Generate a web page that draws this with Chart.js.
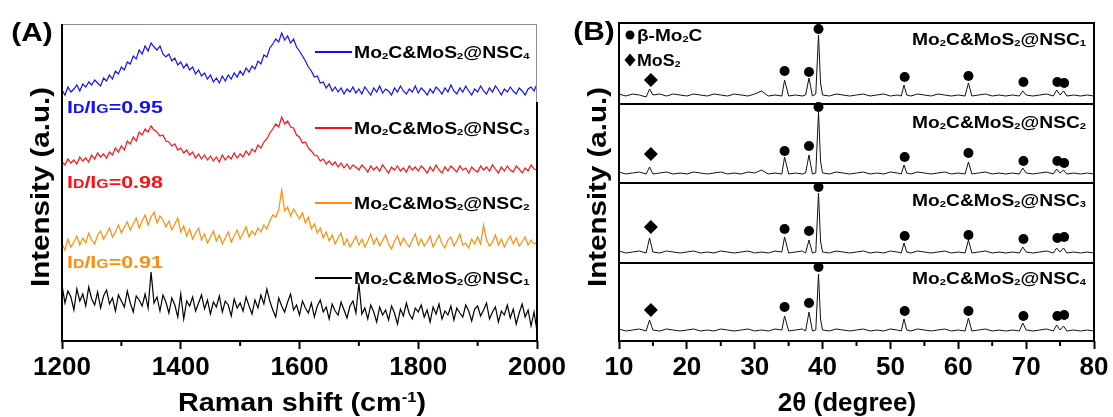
<!DOCTYPE html>
<html>
<head>
<meta charset="utf-8">
<script src="https://cdn.jsdelivr.net/npm/chart.js@4.4.1/dist/chart.umd.min.js"></script>
<style>
  html, body { margin: 0; padding: 0; background: #fff; }
  #wrap { position: relative; width: 1113px; height: 417px; overflow: hidden; }
  .box { position: absolute; top: 0; height: 417px; }
  #boxA { left: 0; width: 600px; }
  #boxB { left: 540px; width: 573px; }
</style>
</head>
<body>
<div id="wrap">
  <div class="box" id="boxA"><canvas id="ramanChart"></canvas></div>
  <div class="box" id="boxB"><canvas id="xrdChart"></canvas></div>
</div>
<script>
// ---- Raman data (A), intensities, stacked a.u. ----
const ramanShift = [
  1200,1205,1210,1215,1220,1225,1230,1235,1240,1245,1250,1255,1260,1265,1270,1275,1280,1285,1290,1295,
  1300,1305,1310,1315,1320,1325,1330,1335,1340,1345,1350,1355,1360,1365,1370,1375,1380,1385,1390,1395,
  1400,1405,1410,1415,1420,1425,1430,1435,1440,1445,1450,1455,1460,1465,1470,1475,1480,1485,1490,1495,
  1500,1505,1510,1515,1520,1525,1530,1535,1540,1545,1550,1555,1560,1565,1570,1575,1580,1585,1590,1595,
  1600,1605,1610,1615,1620,1625,1630,1635,1640,1645,1650,1655,1660,1665,1670,1675,1680,1685,1690,1695,
  1700,1705,1710,1715,1720,1725,1730,1735,1740,1745,1750,1755,1760,1765,1770,1775,1780,1785,1790,1795,
  1800,1805,1810,1815,1820,1825,1830,1835,1840,1845,1850,1855,1860,1865,1870,1875,1880,1885,1890,1895,
  1900,1905,1910,1915,1920,1925,1930,1935,1940,1945,1950,1955,1960,1965,1970,1975,1980,1985,1990,1995,
  2000];
const ramanNSC4 = [
  251,246,254,249,252,256,250,257,254,259,256,261,258,255,263,260,266,262,270,267,
  274,271,279,277,285,282,291,287,295,290,298,294,291,295,287,284,287,280,283,276,
  279,273,277,271,274,267,271,265,268,262,266,259,263,258,265,260,266,262,268,264,
  270,266,273,269,275,272,280,277,286,284,293,297,302,299,308,301,305,298,302,294,
  290,285,280,274,270,264,265,258,259,253,257,250,254,249,253,247,252,249,254,248,
  252,247,254,250,246,253,249,255,248,252,250,246,253,249,255,250,247,252,249,255,
  248,253,250,246,252,248,254,251,247,253,249,256,250,247,253,249,255,250,246,252,
  249,255,250,247,253,249,255,251,246,252,249,254,250,247,253,250,246,252,254,250,
  257];
const ramanNSC3 = [
  179,176,182,178,181,177,184,180,183,179,186,182,188,184,187,183,189,186,193,189,
  195,191,200,197,204,200,209,206,212,209,215,211,209,205,206,200,199,195,197,191,
  193,188,191,186,189,183,187,182,186,181,185,180,184,179,186,181,185,182,188,183,
  187,184,190,186,192,189,196,193,199,202,208,212,217,214,224,217,220,214,213,206,
  204,198,199,193,190,186,185,180,182,177,180,176,179,174,178,173,177,172,176,174,
  171,176,173,169,175,171,174,170,176,172,168,174,171,175,170,173,169,175,171,174,
  170,175,172,168,174,170,176,171,168,174,170,175,172,169,175,171,173,168,174,171,
  169,175,171,174,170,176,172,168,174,170,175,171,169,175,172,168,173,170,176,172,
  171];
const ramanNSC2 = [
  97,91,102,94,99,105,96,103,98,108,101,97,106,110,102,107,113,104,109,116,
  108,114,119,111,117,123,113,120,126,116,124,129,118,125,121,114,120,111,117,123,
  109,115,105,112,102,108,113,101,107,98,104,110,100,106,97,103,109,99,105,111,
  102,108,114,104,110,106,113,109,116,112,120,126,124,131,151,130,134,125,132,127,
  122,128,118,124,112,117,108,113,103,109,100,106,97,103,108,96,102,94,99,105,
  96,102,94,100,107,97,103,95,101,106,97,92,100,105,96,103,98,94,101,107,
  96,102,95,99,105,94,100,106,97,93,101,104,95,100,107,96,98,93,102,97,
  104,97,116,101,95,99,106,96,102,94,100,105,97,103,95,99,104,96,101,97,
  99];
const ramanNSC1 = [
  56,38,50,44,31,52,40,47,35,54,42,36,49,33,45,51,37,43,30,46,
  40,34,50,38,29,45,41,35,47,33,69,38,44,30,46,39,28,43,36,24,
  47,22,40,35,44,30,38,46,32,41,27,39,34,45,29,40,36,25,42,33,
  38,30,44,35,27,41,33,46,37,52,40,31,24,43,35,29,39,47,31,36,
  26,40,33,28,38,24,35,41,29,34,22,37,30,26,39,31,23,35,40,28,
  58,27,33,22,36,29,19,34,26,31,21,35,28,17,32,25,38,27,22,33,
  29,36,24,31,19,34,27,37,22,30,26,35,21,33,28,24,36,30,20,32,
  35,25,31,38,22,29,34,19,30,26,36,23,32,17,28,37,24,31,15,29,
  10];
const ramanTicks = [1200, 1400, 1600, 1800, 2000];
const idigRatios = ['0.95', '0.98', '0.91'];

// ---- XRD data (B) ----
const twoTheta = [10,11,12,13,14,14.5,15,16,17,18,19,20,21,22,23,24,25,26,27,28,29,30,31,32,33,34,34.4,
  35,36,37,37.5,38,38.5,39,39.4,39.7,40,41,42,43,44,45,46,47,48,49,50,51,51.6,52,52.4,
  53,54,55,56,57,58,59,60,61,61.5,62,63,64,65,66,67,68,69,69.5,70,71,72,73,74,74.5,75,75.5,76,77,78,79,80];
const xrdNSC1 = [247,245,247,246,244,252,246,247,245,247,246,245,247,246,245,247,246,245,247,246,245,247,250,245,246,245,261,
  245,246,245,246,263,245,247,306,258,246,245,247,246,245,246,247,245,246,247,245,246,245,256,246,
  245,247,246,245,247,246,245,246,245,258,245,246,247,245,246,245,246,245,250,246,245,246,247,245,251,246,250,245,246,245,246,245];
const xrdNSC2 = [169,167,168,169,167,174,167,168,169,167,168,167,169,168,167,168,169,167,168,167,169,168,171,167,168,167,184,
  167,168,167,168,186,167,168,229,180,168,167,169,168,167,168,169,167,168,167,169,168,167,176,168,
  167,169,168,167,168,169,167,168,167,179,167,168,169,167,168,167,168,167,173,168,167,168,169,167,172,168,171,167,168,167,168,167];
const xrdNSC3 = [90,88,89,90,88,103,89,88,90,89,88,89,90,88,89,88,90,89,88,89,90,88,89,88,90,89,104,
  88,89,90,88,101,88,89,148,100,89,88,90,89,88,89,90,88,89,88,90,89,88,98,89,
  88,90,89,88,89,90,88,89,88,101,88,89,90,88,89,88,89,88,94,89,88,89,90,88,93,89,93,88,89,88,89,88];
const xrdNSC4 = [12,10,11,12,10,21,11,10,12,11,10,11,12,10,11,10,12,11,10,11,12,10,11,10,12,11,25,
  10,11,12,10,29,10,11,67,22,11,10,12,11,10,11,12,10,11,10,12,11,10,22,11,
  10,12,11,10,11,12,10,11,10,23,10,11,12,10,11,10,11,10,18,11,10,11,12,10,16,11,15,10,11,10,11,10];
const xrdTicks = [10, 20, 30, 40, 50, 60, 70, 80];

// phase markers: peak positions and marker heights per sample
const mo2cPeaks = [34.4, 38.0, 39.4, 52.1, 61.5, 69.6, 74.6, 75.6];
const mo2cMarkNSC1 = [270, 269, 312, 264, 265, 259, 259, 258];
const mo2cMarkNSC2 = [190, 195, 234, 184, 188, 180, 180, 178];
const mo2cMarkNSC3 = [112, 110, 154, 105, 106, 102, 103, 104];
const mo2cMarkNSC4 = [34, 38, 74, 30, 30, 25, 25, 26];
const mos2Peak = 14.7;
const mos2Marks = [261, 187, 114, 31];

const FONT = '"Liberation Sans", Arial, Helvetica, sans-serif';
const pts = (xs, ys) => xs.map((x, i) => ({ x: x, y: ys[i] }));

// draws bold text made of pieces: n = normal, sub = subscript, sc = small capital, sup = superscript
function richText(ctx, parts, x, y, o) {
    const size = o.size, sx = o.sx || 1;
    const fontOf = k => `bold ${k === 'n' ? size : k === 'sc' ? size * 0.74 : size * 0.58}px ${FONT}`;
    ctx.save();
    let w = 0;
    parts.forEach(([t, k]) => { ctx.font = fontOf(k); w += ctx.measureText(t).width; });
    ctx.translate(x, y);
    if (o.rotate) ctx.rotate(o.rotate);
    ctx.scale(sx, 1);
    ctx.fillStyle = o.color || '#000';
    ctx.textBaseline = 'alphabetic';
    let cx = o.align === 'right' ? -w : o.align === 'center' ? -w / 2 : 0;
    const base = size * 0.36;
    parts.forEach(([t, k]) => {
        ctx.font = fontOf(k);
        const dy = k === 'sub' ? size * 0.06 : k === 'sup' ? -size * 0.36 : 0;
        ctx.fillText(t, cx, base + dy);
        cx += ctx.measureText(t).width;
    });
    ctx.restore();
}

const sampleName = n => [['Mo', 'n'], ['2', 'sub'], ['C&MoS', 'n'], ['2', 'sub'], ['@NSC', 'n'], [String(n), 'sub']];

function minorTicks(ctx, chart, len) {
    const x = chart.scales.x, a = chart.chartArea;
    const v = x.ticks.map(t => t.value);
    ctx.strokeStyle = '#000';
    ctx.lineWidth = 2;
    for (let i = 0; i < v.length - 1; i++) {
        const px = x.getPixelForValue((v[i] + v[i + 1]) / 2);
        ctx.beginPath(); ctx.moveTo(px, a.bottom); ctx.lineTo(px, a.bottom + len); ctx.stroke();
    }
}

// --- Panel A decorations ---
const ramanColors = ['#1010ff', '#ff0f0f', '#ff8c0a', '#000000'];
const ramanDecor = {
    id: 'ramanDecor',
    afterDatasetsDraw(chart) {
        const { ctx, chartArea: a } = chart;
        ctx.save();
        minorTicks(ctx, chart, 5);
        // frame: light top edge, dark left/bottom
        ctx.strokeStyle = '#8c8c8c'; ctx.lineWidth = 1;
        ctx.beginPath(); ctx.moveTo(a.left, a.top + 0.5); ctx.lineTo(a.right - 0.5, a.top + 0.5); ctx.lineTo(a.right - 0.5, a.top + 80); ctx.stroke();
        ctx.strokeStyle = '#000'; ctx.lineWidth = 2;
        ctx.beginPath(); ctx.moveTo(a.left, a.top); ctx.lineTo(a.left, a.bottom); ctx.lineTo(a.right, a.bottom); ctx.lineTo(a.right, a.top + 78); ctx.stroke();

        // legend rows
        const rows = [28, 104, 179, 254];
        [4, 3, 2, 1].forEach((n, i) => {
            const cy = a.top + rows[i];
            ctx.strokeStyle = ramanColors[i]; ctx.lineWidth = 2;
            ctx.beginPath(); ctx.moveTo(a.left + 253, cy); ctx.lineTo(a.left + 290, cy); ctx.stroke();
            richText(ctx, sampleName(n), a.left + 292, cy, { size: 17, sx: 1.14 });
        });
        // ID/IG ratios
        const ry = [83, 158, 238];
        idigRatios.forEach((r, i) => {
            richText(ctx, [['I', 'n'], ['D', 'sc'], ['/I', 'n'], ['G', 'sc'], ['=' + r, 'n']],
                a.left + 5, a.top + ry[i], { size: 17, sx: 1.26, color: ramanColors[i] });
        });
        // panel label and titles
        richText(ctx, [['(A)', 'n']], 32, 32, { size: 26, sx: 1.15, align: 'center' });
        richText(ctx, [['Intensity (a.u.)', 'n']], 40, 187, { size: 25, sx: 1.18, align: 'center', rotate: -Math.PI / 2 });
        richText(ctx, [['Raman shift (cm', 'n'], ['-1', 'sup'], [')', 'n']], 302, 402, { size: 25, sx: 1.15, align: 'center' });
        ctx.restore();
    }
};

// --- Panel B decorations ---
const xrdDecor = {
    id: 'xrdDecor',
    afterDatasetsDraw(chart) {
        const { ctx, chartArea: a, scales: { y } } = chart;
        ctx.save();
        minorTicks(ctx, chart, 5);
        ctx.strokeStyle = '#000'; ctx.lineWidth = 2;
        ctx.strokeRect(a.left, a.top, a.right - a.left, a.bottom - a.top);
        [78, 158, 237].forEach(v => {
            const py = Math.round(y.getPixelForValue(v));
            ctx.beginPath(); ctx.moveTo(a.left, py); ctx.lineTo(a.right, py); ctx.stroke();
        });
        // sample names, top to bottom
        const rows = [16, 99, 177, 255];
        [1, 2, 3, 4].forEach((n, i) => {
            richText(ctx, sampleName(n), a.right - 8, a.top + rows[i], { size: 17, sx: 1.13, align: 'right' });
        });
        // phase legend
        ctx.fillStyle = '#000';
        ctx.beginPath(); ctx.arc(a.left + 11, a.top + 12, 4.5, 0, Math.PI * 2); ctx.fill();
        richText(ctx, [['\u03b2-Mo', 'n'], ['2', 'sub'], ['C', 'n']], a.left + 18, a.top + 12, { size: 17, sx: 1.12 });
        const dx = a.left + 11, dy = a.top + 37;
        ctx.beginPath(); ctx.moveTo(dx, dy - 6.5); ctx.lineTo(dx + 5.5, dy); ctx.lineTo(dx, dy + 6.5); ctx.lineTo(dx - 5.5, dy); ctx.closePath(); ctx.fill();
        richText(ctx, [['MoS', 'n'], ['2', 'sub']], a.left + 18, a.top + 37, { size: 17, sx: 1.05 });
        // panel label and titles
        richText(ctx, [['(B)', 'n']], 54, 31, { size: 26, sx: 1.15, align: 'center' });
        richText(ctx, [['Intensity (a.u.)', 'n']], 57, 187, { size: 25, sx: 1.18, align: 'center', rotate: -Math.PI / 2 });
        richText(ctx, [['2\u03b8 (degree)', 'n']], 307, 402, { size: 25, sx: 1.04, align: 'center' });
        ctx.restore();
    }
};

const axisX = (min, max, tickVals) => ({
    type: 'linear', min: min, max: max,
    afterFit: s => { s.height = 76; },
    afterBuildTicks: s => { s.ticks = tickVals.map(v => ({ value: v })); },
    ticks: { autoSkip: false, maxRotation: 0, padding: 3, color: '#000',
             font: { family: FONT, size: 26, weight: 'bold' }, callback: v => String(v) },
    grid: { drawOnChartArea: false, drawTicks: true, tickLength: 8, tickWidth: 2, tickColor: '#000' },
    border: { display: false }
});

// --- Panel A chart ---
new Chart(document.getElementById('ramanChart'), {
    type: 'line',
    data: {
        datasets: [ramanNSC4, ramanNSC3, ramanNSC2, ramanNSC1].map((s, i) => ({
            data: pts(ramanShift, s),
            borderColor: ramanColors[i],
            borderWidth: 1.2,
            pointRadius: 0,
            tension: 0
        }))
    },
    options: {
        responsive: true, maintainAspectRatio: false, animation: false,
        layout: { padding: { left: 62, right: 63, top: 24, bottom: 0 } },
        plugins: { legend: { display: false }, tooltip: { enabled: false } },
        scales: {
            x: axisX(1200, 2000, ramanTicks),
            y: { display: false, min: 0, max: 317 }
        }
    },
    plugins: [ramanDecor]
});

// --- Panel B chart ---
const circleMarks = [mo2cMarkNSC1, mo2cMarkNSC2, mo2cMarkNSC3, mo2cMarkNSC4].flatMap(m => pts(mo2cPeaks, m));
const diamondMarks = mos2Marks.map(v => ({ x: mos2Peak, y: v }));

new Chart(document.getElementById('xrdChart'), {
    type: 'line',
    data: {
        datasets: [
            ...[xrdNSC1, xrdNSC2, xrdNSC3, xrdNSC4].map(s => ({
                data: pts(twoTheta, s),
                borderColor: '#111', borderWidth: 1, pointRadius: 0, tension: 0
            })),
            { label: 'beta-Mo2C', data: circleMarks, showLine: false, pointStyle: 'circle', pointRadius: 5,
              backgroundColor: '#000', borderWidth: 0, clip: false },
            { label: 'MoS2', data: diamondMarks, showLine: false, pointStyle: 'rectRot', pointRadius: 7,
              backgroundColor: '#000', borderWidth: 0, clip: false }
        ]
    },
    options: {
        responsive: true, maintainAspectRatio: false, animation: false,
        layout: { padding: { left: 79, right: 19, top: 23, bottom: 0 } },
        plugins: { legend: { display: false }, tooltip: { enabled: false } },
        scales: {
            x: axisX(10, 80, xrdTicks),
            y: { display: false, min: 0, max: 318 }
        }
    },
    plugins: [xrdDecor]
});
</script>
</body>
</html>
